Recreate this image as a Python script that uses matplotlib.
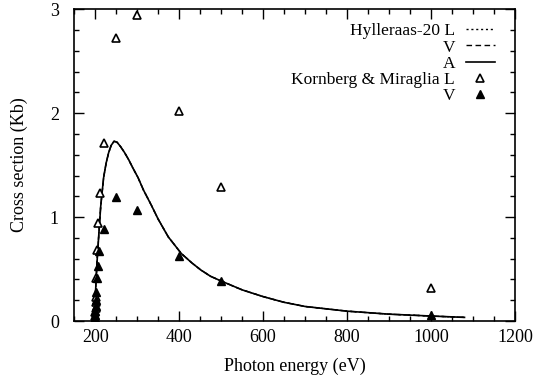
import matplotlib
matplotlib.use('Agg')
import matplotlib.pyplot as plt

plt.rcParams['font.family'] = ['Liberation Serif', 'DejaVu Serif']

# Hylleraas-20 curves (L, V and A lie on top of each other)
hyl_energy = [198, 199, 201, 204, 208, 213, 220, 226, 232, 238, 245, 252, 260, 270,
              280, 290, 302, 315, 333, 350, 374, 405, 430, 452, 475, 500, 550, 600,
              650, 700, 800, 900, 1000, 1080]
hyl_A = [0.0, 0.08, 0.3, 0.55, 0.8, 1.1, 1.38, 1.52, 1.62, 1.69, 1.73, 1.72, 1.68, 1.62,
         1.55, 1.47, 1.38, 1.26, 1.12, 0.98, 0.81, 0.65, 0.56, 0.49, 0.43, 0.385, 0.3, 0.235,
         0.18, 0.14, 0.095, 0.066, 0.048, 0.035]
hyl_L = list(hyl_A)
hyl_V = list(hyl_A)

# Kornberg & Miraglia
km_L_energy = [200, 200, 200, 201, 201, 201, 202, 205, 207, 211, 220, 250, 300, 400, 500, 1000]
km_L = [0.02, 0.05, 0.09, 0.13, 0.18, 0.23, 0.41, 0.68, 0.94, 1.23, 1.71, 2.72, 2.94, 2.02, 1.29, 0.32]
km_V_energy = [199, 199, 200, 200, 201, 201, 202, 204, 207, 209, 220, 250, 300, 400, 500, 1000]
km_V = [0.01, 0.03, 0.06, 0.1, 0.14, 0.2, 0.28, 0.41, 0.53, 0.67, 0.89, 1.19, 1.07, 0.63, 0.385, 0.06]

fig = plt.figure(figsize=(5.38, 3.84), dpi=100)
ax = fig.add_axes([0.138, 0.164, 0.819, 0.812])

ax.plot(hyl_energy, hyl_L, color='black', lw=1.0, ls=(0, (1.5, 2)), label='Hylleraas-20 L')
ax.plot(hyl_energy, hyl_V, color='black', lw=1.0, ls=(0, (4, 2.5)), label='V')
ax.plot(hyl_energy, hyl_A, color='black', lw=1.2, ls='-', label='A')
ax.plot(km_L_energy, km_L, ls='none', marker='^', ms=6, mfc='white', mec='black', mew=1.2,
        label='Kornberg & Miraglia L')
ax.plot(km_V_energy, km_V, ls='none', marker='^', ms=6, mfc='black', mec='black', mew=1.0,
        label='V')

ax.set_xlim(150, 1200)
ax.set_ylim(0, 3)
ax.set_xticks([200, 400, 600, 800, 1000, 1200])
ax.set_xticks(range(150, 1200, 50), minor=True)
ax.set_yticks([0, 1, 2, 3])
ax.set_yticklabels(['0', '1', '2', '3'])
ax.set_yticks([i * 0.2 for i in range(16)], minor=True)
ax.tick_params(which='both', direction='in', top=True, right=True, width=1.0, labelsize=13)
ax.tick_params(which='major', length=7)
ax.tick_params(which='minor', length=3.5)
ax.tick_params(axis='y', pad=11)
ax.tick_params(axis='x', pad=6)
for s in ax.spines.values():
    s.set_linewidth(1.2)

ax.set_xlabel('Photon energy (eV)', fontsize=13, labelpad=8)
ax.set_ylabel('Cross section (Kb)', fontsize=13, labelpad=16)

ax.legend(loc='upper right', bbox_to_anchor=(0.955, 0.955), frameon=False, markerfirst=False,
          fontsize=12.5, handlelength=1.7, handletextpad=0.6, labelspacing=0.0, borderpad=0,
          borderaxespad=0)

plt.savefig('out.png', dpi=100)
